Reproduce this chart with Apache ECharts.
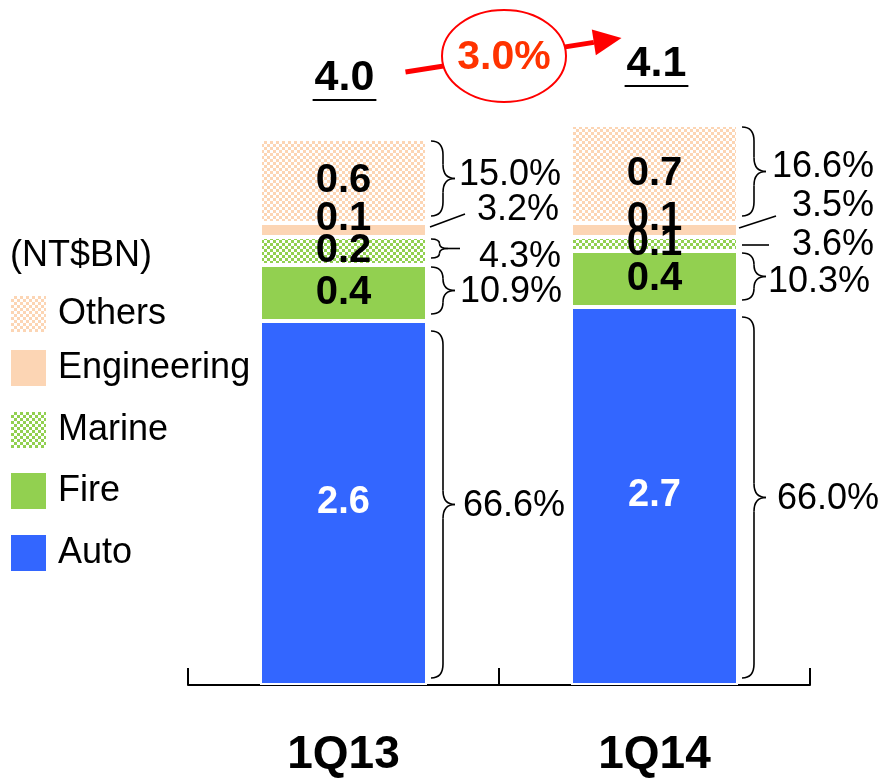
<!DOCTYPE html>
<html>
<head>
<meta charset="utf-8">
<script src="https://cdn.jsdelivr.net/npm/echarts@6/dist/echarts.min.js"></script>
<style>
  html, body { margin: 0; padding: 0; background: #fff; }
  #chart { width: 890px; height: 781px; }
</style>
</head>
<body>
<div id="chart"></div>
<script>
// Premium mix by line of business, NT$ billions
const quarters = ['1Q13', '1Q14'];
const auto = [2.6, 2.7];
const fire = [0.4, 0.4];
const marine = [0.2, 0.1];
const engineering = [0.1, 0.1];
const others = [0.6, 0.7];
const totals = ['4.0', '4.1'];
const growth = '3.0%';
const autoShare = [66.6, 66.0];
const fireShare = [10.9, 10.3];
const marineShare = [4.3, 3.6];
const engineeringShare = [3.2, 3.5];
const othersShare = [15.0, 16.6];
const unitLabel = '(NT$BN)';

const FONT = "'Liberation Sans', Arial, sans-serif";
const BLUE = '#3366FF', GREEN = '#92D050', PEACH = '#FCD5B4';

// small checker tile used for the hatched segments
function checker(base) {
  const c = document.createElement('canvas');
  c.width = 6; c.height = 6;
  const g = c.getContext('2d');
  g.fillStyle = base; g.fillRect(0, 0, 6, 6);
  g.fillStyle = '#ffffff';
  g.fillRect(0, 0, 3, 3); g.fillRect(3, 3, 3, 3);
  return c;
}

const seriesDefs = [
  { name: 'Auto', data: auto, share: autoShare, color: BLUE, label: '#ffffff', size: 38 },
  { name: 'Fire', data: fire, share: fireShare, color: GREEN, label: '#000000' },
  { name: 'Marine', data: marine, share: marineShare, color: { image: checker(GREEN), repeat: 'repeat' }, label: '#000000' },
  { name: 'Engineering', data: engineering, share: engineeringShare, color: PEACH, label: '#000000', offset: [0, -11] },
  { name: 'Others', data: others, share: othersShare, color: { image: checker(PEACH), repeat: 'repeat' }, label: '#000000' }
];

// legend rows, top to bottom
const legendRows = [
  { name: 'Others', top: 296 },
  { name: 'Engineering', top: 350 },
  { name: 'Marine', top: 412 },
  { name: 'Fire', top: 473 },
  { name: 'Auto', top: 535 }
];

// share annotations to the right of each bar (offsets from bar edge / segment middle)
const noteLayout = {
  Others:      [{ kind: 'brace', dx: 32, dy: -3 }, { kind: 'brace', dx: 34, dy: -4 }],
  Engineering: [{ kind: 'leader', from: [3, -3], to: [38, -16], dx: 50, dy: -20 },
                { kind: 'leader', from: [1, -2], to: [38, -14], dx: 54, dy: -24 }],
  Marine:      [{ kind: 'brace', dx: 52, dy: 9, tail: true }, { kind: 'leader', from: [4, 1], to: [31, 1], dx: 54, dy: 1 }],
  Fire:        [{ kind: 'brace', dx: 33, dy: 2 }, { kind: 'brace', dx: 30, dy: 6 }],
  Auto:        [{ kind: 'brace', dx: 36, dy: 2, top: 10 }, { kind: 'brace', dx: 39, dy: 2, top: 10 }]
};

const BAR_W = 167;
const chart = echarts.init(document.getElementById('chart'), null, { renderer: 'canvas' });

const option = {
  animation: false,
  backgroundColor: '#ffffff',
  grid: { left: 188, right: 80, top: 13, bottom: 96 },
  xAxis: {
    type: 'category',
    data: quarters,
    boundaryGap: true,
    axisLine: { lineStyle: { color: '#000', width: 2 } },
    axisTick: { show: true, inside: true, length: 17, lineStyle: { color: '#000', width: 2 } },
    axisLabel: { color: '#000', fontFamily: FONT, fontWeight: 'bold', fontSize: 46, margin: 47 }
  },
  yAxis: { type: 'value', min: 0, max: 4.8, show: false },
  legend: legendRows.map(r => ({
    data: [r.name],
    left: 11,
    top: r.top,
    orient: 'vertical',
    padding: 0,
    itemWidth: 35,
    itemHeight: 36,
    icon: 'rect',
    selectedMode: false,
    itemStyle: { borderWidth: 0 },
    textStyle: { color: '#000', fontFamily: FONT, fontSize: 36, padding: [0, 0, 0, 7] }
  })),
  series: seriesDefs.map(s => ({
    name: s.name,
    type: 'bar',
    stack: 'total',
    data: s.data,
    barWidth: BAR_W,
    itemStyle: { color: s.color, borderColor: '#ffffff', borderWidth: 2 },
    label: {
      show: true,
      position: 'inside',
      color: s.label,
      fontFamily: FONT,
      fontWeight: 'bold',
      fontSize: s.size || 40,
      offset: s.offset || [0, 0],
      formatter: p => Number(p.value).toFixed(1)
    },
    emphasis: { disabled: true }
  }))
};
chart.setOption(option);

function px(i, v) { return chart.convertToPixel({ gridIndex: 0 }, [i, v]); }

function textWidth(str, font) {
  const g = document.createElement('canvas').getContext('2d');
  g.font = font;
  return g.measureText(str).width;
}

const graphics = [];
const line = (x1, y1, x2, y2, w, color) => graphics.push({
  type: 'line', silent: true, shape: { x1, y1, x2, y2 },
  style: { stroke: color || '#000', lineWidth: w || 1.6 }
});
const curve = (x1, y1, cx, cy, x2, y2) => graphics.push({
  type: 'bezierCurve', silent: true,
  shape: { x1, y1, cpx1: cx, cpy1: cy, x2, y2 },
  style: { stroke: '#000', lineWidth: 1.6, fill: null }
});
const text = (str, x, y, o) => graphics.push({
  type: 'text', x, y, silent: true,
  style: Object.assign({ text: str, fill: '#000', fontFamily: FONT, fontSize: 36, align: 'left', verticalAlign: 'middle' }, o || {})
});

// right-facing curly brace from (x0, yTop) to (x0, yBot), point at x0 + w
function brace(x0, yTop, yBot, w) {
  const xm = x0 + w / 2, ym = (yTop + yBot) / 2;
  const r = Math.min(14, (yBot - yTop) / 4);
  curve(x0, yTop, xm, yTop, xm, yTop + r);
  line(xm, yTop + r, xm, ym - r);
  curve(xm, ym - r, xm, ym, x0 + w, ym);
  curve(x0 + w, ym, xm, ym, xm, ym + r);
  line(xm, ym + r, xm, yBot - r);
  curve(xm, yBot - r, xm, yBot, x0, yBot);
}

// share annotations
quarters.forEach((q, i) => {
  const right = px(i, 0)[0] + BAR_W / 2;
  let base = 0;
  seriesDefs.forEach(s => {
    const yBot = px(i, base)[1];
    const yTop = px(i, base + s.data[i])[1];
    base += s.data[i];
    const mid = (yTop + yBot) / 2;
    const L = noteLayout[s.name][i];
    const label = s.share[i].toFixed(1) + '%';
    if (L.kind === 'brace') {
      const t = yTop + (L.top || 2), b = yBot - 7;
      const w = L.tail ? 17 : 24;
      brace(right + 4, t, b, w);
      if (L.tail) line(right + 4 + w, (t + b) / 2, right + 33, (t + b) / 2);
      text(label, right + L.dx, (t + b) / 2 + L.dy);
    } else {
      line(right + L.from[0], mid + L.from[1], right + L.to[0], mid + L.to[1]);
      text(label, right + L.dx, mid + L.dy);
    }
  });
});

// totals above each bar, underlined
const totalY = [78, 64];
const totalFont = `bold 43px ${FONT}`;
totals.forEach((t, i) => {
  const cx = px(i, 0)[0] + (i === 0 ? 1 : 2);
  text(t, cx, totalY[i], { align: 'center', fontWeight: 'bold', fontSize: 43 });
  const w = textWidth(t, totalFont) + 4;
  line(cx - w / 2, totalY[i] + 22, cx + w / 2, totalY[i] + 22, 2);
});

// growth arrow with circled rate
const c0 = px(0, 0)[0], c1 = px(1, 0)[0];
const a0 = [c0 + 62, 72], tip = [c1 - 33, 38];
const dxA = tip[0] - a0[0], dyA = tip[1] - a0[1], len = Math.hypot(dxA, dyA);
const ux = dxA / len, uy = dyA / len, head = 28, half = 13;
const baseC = [tip[0] - ux * head, tip[1] - uy * head];
line(a0[0], a0[1], baseC[0], baseC[1], 5, '#FF0000');
graphics.push({
  type: 'polygon', silent: true,
  shape: { points: [tip, [baseC[0] - uy * half, baseC[1] + ux * half], [baseC[0] + uy * half, baseC[1] - ux * half]] },
  style: { fill: '#FF0000' }
});
const ex = (c0 + c1) / 2 + 5;
graphics.push({
  type: 'ellipse', silent: true,
  shape: { cx: ex, cy: 56, rx: 62, ry: 46 },
  style: { fill: '#ffffff', stroke: '#FF0000', lineWidth: 2 }
});
text(growth, ex, 58, { align: 'center', fontWeight: 'bold', fontSize: 41, fill: '#FF3300' });

// unit caption above the legend
text(unitLabel, 10, 256, { fontSize: 36 });

chart.setOption({ graphic: { elements: graphics } });
</script>
</body>
</html>
